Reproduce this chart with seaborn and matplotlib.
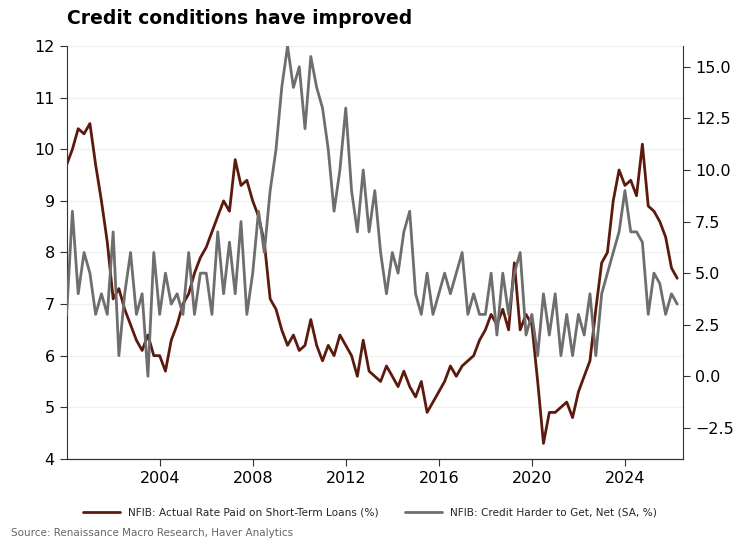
import matplotlib
matplotlib.use('Agg')
import matplotlib.pyplot as plt
import seaborn as sns
import numpy as np
import pandas as pd

# quarterly readings, 2000Q1 onward
rate_paid = [9.7, 10.0, 10.4, 10.3, 10.5, 9.7, 9.0, 8.2, 7.1, 7.3, 6.9, 6.6,
             6.3, 6.1, 6.4, 6.0, 6.0, 5.7, 6.3, 6.6, 7.0, 7.2, 7.6, 7.9,
             8.1, 8.4, 8.7, 9.0, 8.8, 9.8, 9.3, 9.4, 9.0, 8.7, 8.2, 7.1,
             6.9, 6.5, 6.2, 6.4, 6.1, 6.2, 6.7, 6.2, 5.9, 6.2, 6.0, 6.4,
             6.2, 6.0, 5.6, 6.3, 5.7, 5.6, 5.5, 5.8, 5.6, 5.4, 5.7, 5.4,
             5.2, 5.5, 4.9, 5.1, 5.3, 5.5, 5.8, 5.6, 5.8, 5.9, 6.0, 6.3,
             6.5, 6.8, 6.6, 6.9, 6.5, 7.8, 6.5, 6.8, 6.6, 5.5, 4.3, 4.9,
             4.9, 5.0, 5.1, 4.8, 5.3, 5.6, 5.9, 6.9, 7.8, 8.0, 9.0, 9.6,
             9.3, 9.4, 9.1, 10.1, 8.9, 8.8, 8.6, 8.3, 7.7, 7.5]
credit_harder = [3.0, 8.0, 4.0, 6.0, 5.0, 3.0, 4.0, 3.0, 7.0, 1.0, 4.0, 6.0,
                 3.0, 4.0, 0.0, 6.0, 3.0, 5.0, 3.5, 4.0, 3.0, 6.0, 3.0, 5.0,
                 5.0, 3.0, 7.0, 4.0, 6.5, 4.0, 7.5, 3.0, 5.0, 8.0, 6.0, 9.0,
                 11.0, 14.0, 16.0, 14.0, 15.0, 12.0, 15.5, 14.0, 13.0, 11.0, 8.0, 10.0,
                 13.0, 9.0, 7.0, 10.0, 7.0, 9.0, 6.0, 4.0, 6.0, 5.0, 7.0, 8.0,
                 4.0, 3.0, 5.0, 3.0, 4.0, 5.0, 4.0, 5.0, 6.0, 3.0, 4.0, 3.0,
                 3.0, 5.0, 2.0, 5.0, 3.0, 5.0, 6.0, 2.0, 3.0, 1.0, 4.0, 2.0,
                 4.0, 1.0, 3.0, 1.0, 3.0, 2.0, 4.0, 1.0, 4.0, 5.0, 6.0, 7.0,
                 9.0, 7.0, 7.0, 6.5, 3.0, 5.0, 4.5, 3.0, 4.0, 3.5]
dates = pd.date_range('2000-01-01', periods=len(rate_paid), freq='QS')
df = pd.DataFrame({'date': dates, 'rate': rate_paid, 'credit': credit_harder})

sns.set_style("white")
plt.rcParams['font.family'] = ['DejaVu Sans']

fig, ax = plt.subplots(figsize=(7.4, 5.43), dpi=100)
fig.subplots_adjust(left=0.09, right=0.923, top=0.915, bottom=0.155)
ax2 = ax.twinx()

sns.lineplot(data=df, x='date', y='rate', ax=ax, color='#5c1a0e', linewidth=2,
             label='NFIB: Actual Rate Paid on Short-Term Loans (%)', legend=False)
sns.lineplot(data=df, x='date', y='credit', ax=ax2, color='#6e6e6e', linewidth=2,
             label='NFIB: Credit Harder to Get, Net (SA, %)', legend=False)

ax.set_ylim(4, 12)
ax2.set_ylim(-4, 16)
ax2.set_yticks([-2.5, 0, 2.5, 5, 7.5, 10, 12.5, 15])
ax.set_xlim(pd.Timestamp('2000-01-01'), pd.Timestamp('2026-07-01'))
ax.set_xticks([pd.Timestamp(f'{y}-01-01') for y in range(2004, 2025, 4)])
ax.set_xticklabels([str(y) for y in range(2004, 2025, 4)])
ax.set_xlabel('')
ax.set_ylabel('')
ax2.set_ylabel('')
ax.yaxis.grid(True, color='#f0f0f0', linewidth=1)
ax.set_axisbelow(True)

for a in (ax, ax2):
    a.spines['top'].set_visible(False)
    for s in a.spines.values():
        s.set_color('#333333')
    a.tick_params(labelsize=11.5, length=5, color='#333333', labelcolor='black')
ax.spines['right'].set_visible(False)
ax2.spines['left'].set_visible(False)
ax.tick_params(axis='both', left=True, bottom=True)
ax2.tick_params(axis='y', right=True)

fig.text(0.09, 0.955, 'Credit conditions have improved', fontsize=13.5,
         weight='bold', color='black')
h1, l1 = ax.get_legend_handles_labels()
h2, l2 = ax2.get_legend_handles_labels()
fig.legend(h1 + h2, l1 + l2, loc='lower center', bbox_to_anchor=(0.5, 0.03),
           ncol=2, frameon=False, fontsize=7.6, columnspacing=2.5, handlelength=3.5)
fig.text(0.015, 0.012, 'Source: Renaissance Macro Research, Haver Analytics',
         fontsize=7.5, color='#666666')

plt.savefig('out.png', dpi=100)
plt.close()
